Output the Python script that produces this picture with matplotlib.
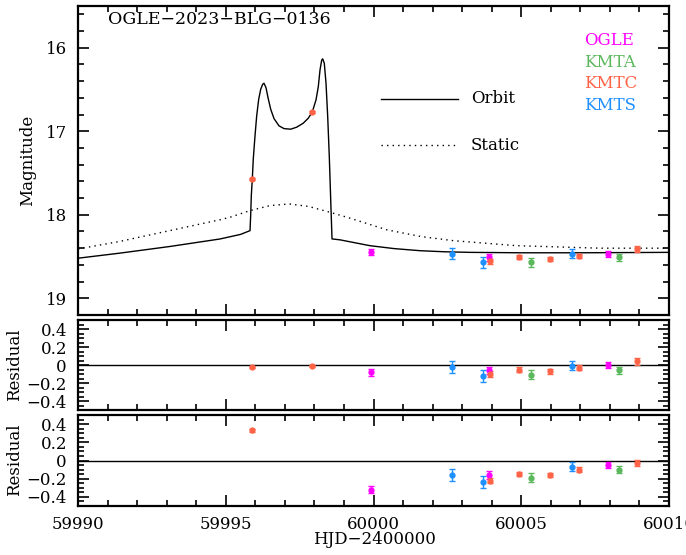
import numpy as np
import matplotlib
matplotlib.use("Agg")
import matplotlib.pyplot as plt
from matplotlib.ticker import MultipleLocator

plt.rcParams['font.family'] = ['DejaVu Serif']
plt.rcParams['font.size'] = 12

# data sets: time, magnitude, error, residual (orbit), residual (static)
ogle_t = [59999.90, 60003.92, 60007.92]
ogle_mag = [18.445, 18.51, 18.465]
ogle_err = [0.04, 0.04, 0.035]
ogle_res1 = [-0.08, -0.06, 0.00]
ogle_res2 = [-0.32, -0.16, -0.05]

kmta_t = [60005.32, 60008.31]
kmta_mag = [18.57, 18.51]
kmta_err = [0.05, 0.04]
kmta_res1 = [-0.11, -0.06]
kmta_res2 = [-0.19, -0.10]

kmtc_t = [59995.90, 59997.93, 60003.93, 60004.92, 60005.96, 60006.95, 60008.91]
kmtc_mag = [17.57, 16.77, 18.555, 18.505, 18.53, 18.49, 18.41]
kmtc_err = [0.012, 0.012, 0.03, 0.025, 0.025, 0.025, 0.035]
kmtc_res1 = [-0.02, -0.01, -0.10, -0.05, -0.07, -0.03, 0.04]
kmtc_res2 = [0.33, -1.13, -0.22, -0.15, -0.16, -0.10, -0.03]

kmts_t = [60002.66, 60003.69, 60006.71]
kmts_mag = [18.465, 18.57, 18.465]
kmts_err = [0.065, 0.065, 0.05]
kmts_res1 = [-0.02, -0.12, -0.01]
kmts_res2 = [-0.16, -0.24, -0.07]

# model curves
orbit_t = [59990.0, 59991.4, 59993.1, 59994.8, 59995.5, 59995.821, 59995.844,
           59995.865, 59995.899, 59995.932, 59995.990, 59996.047, 59996.115,
           59996.183, 59996.250, 59996.294, 59996.362, 59996.430, 59996.521,
           59996.633, 59996.802, 59996.971, 59997.198, 59997.401, 59997.624,
           59997.794, 59997.929, 59998.054, 59998.132, 59998.190, 59998.247,
           59998.281, 59998.335, 59998.393, 59998.450, 59998.504, 59998.552,
           59998.596, 59998.866, 59999.88, 60000.7, 60001.57, 60002.4,
           60003.27, 60005.0, 60007.0, 60010.0]
orbit_mag = [18.52, 18.46, 18.38, 18.29, 18.235, 18.19, 18.006,
             17.77, 17.57, 17.33, 17.055, 16.816, 16.616,
             16.497, 16.437, 16.425, 16.478, 16.597, 16.736,
             16.848, 16.935, 16.968, 16.975, 16.951, 16.903,
             16.843, 16.768, 16.625, 16.466, 16.266, 16.147,
             16.133, 16.186, 16.425, 16.824, 17.302, 17.82,
             18.289, 18.30, 18.37, 18.405, 18.43, 18.443,
             18.45, 18.455, 18.455, 18.45]

static_t = [59990.0, 59991.4, 59993.1, 59994.8, 59995.14, 59995.82, 59996.5,
            59997.15, 59997.8, 59998.53, 59999.2, 60000.45, 60001.6, 60002.7,
            60004.85, 60007.66, 60010.0]
static_mag = [18.41, 18.32, 18.19, 18.06, 18.03, 17.95, 17.89,
              17.87, 17.90, 17.97, 18.04, 18.18, 18.26, 18.31,
              18.37, 18.40, 18.40]

sets = [
    ("OGLE", "#ff00ff", ogle_t, ogle_mag, ogle_err, ogle_res1, ogle_res2),
    ("KMTA", "#5cb85c", kmta_t, kmta_mag, kmta_err, kmta_res1, kmta_res2),
    ("KMTC", "#ff6347", kmtc_t, kmtc_mag, kmtc_err, kmtc_res1, kmtc_res2),
    ("KMTS", "#1e90ff", kmts_t, kmts_mag, kmts_err, kmts_res1, kmts_res2),
]

fig = plt.figure(figsize=(6.86, 5.55), dpi=100)
W, H = 686, 555
def box(l, t, r, b):
    return [l / W, 1 - b / H, (r - l) / W, (b - t) / H]

ax = fig.add_axes(box(78, 6, 669, 315))
ax1 = fig.add_axes(box(78, 320, 669, 410))
ax2 = fig.add_axes(box(78, 415, 669, 506))

def style(a, ymaj, ymin):
    a.set_xlim(59990, 60010)
    a.xaxis.set_major_locator(MultipleLocator(5))
    a.xaxis.set_minor_locator(MultipleLocator(1))
    a.yaxis.set_major_locator(MultipleLocator(ymaj))
    a.yaxis.set_minor_locator(MultipleLocator(ymin))
    a.tick_params(which='both', direction='in', top=True, right=True, width=1.2)
    a.tick_params(which='major', length=8, labelsize=12)
    a.tick_params(axis='y', which='major', pad=8)
    a.tick_params(axis='x', which='major', pad=7)
    a.tick_params(which='minor', length=4)
    for s in a.spines.values():
        s.set_linewidth(1.6)

# main panel
ax.plot(orbit_t, orbit_mag, color='black', lw=1.0)
ax.plot(static_t, static_mag, color='black', lw=1.0, ls=(0, (1, 3)))
for name, c, t, m, e, r1, r2 in sets:
    ax.errorbar(t, m, yerr=e, fmt='o', color=c, ms=3.5, capsize=2, elinewidth=1)
ax.set_ylim(19.2, 15.5)
style(ax, 1, 0.2)
ax.tick_params(labelbottom=False)

ax.text(0.051, 0.955, "OGLE\u22122023\u2212BLG\u22120136", transform=ax.transAxes,
        fontsize=12.5, va='center', ha='left')
ax.plot([0.512, 0.6435], [0.700, 0.700], transform=ax.transAxes, color='black', lw=1.0)
ax.plot([0.512, 0.6435], [0.550, 0.550], transform=ax.transAxes, color='black',
        lw=1.0, ls=(0, (1, 3)))
ax.text(0.6645, 0.700, "Orbit", transform=ax.transAxes, va='center', fontsize=12)
ax.text(0.6645, 0.550, "Static", transform=ax.transAxes, va='center', fontsize=12)
for i, (name, c, *_rest) in enumerate(sets):
    ax.text(0.856, 0.888 - i * 0.0695, name, color=c, transform=ax.transAxes,
            va='center', ha='left', fontsize=12)

# residual panels
for a, idx in ((ax1, 5), (ax2, 6)):
    a.axhline(0, color='black', lw=1.0)
    for s in sets:
        a.errorbar(s[2], s[idx], yerr=s[4], fmt='o', color=s[1], ms=3.5,
                   capsize=2, elinewidth=1)
    a.set_ylim(-0.5, 0.5)
    style(a, 0.2, 0.05)
    a.set_yticks([-0.4, -0.2, 0, 0.2, 0.4])
    a.set_yticklabels(['\u22120.4', '\u22120.2', '0', '0.2', '0.4'])
ax1.tick_params(labelbottom=False)

fig.text(28 / W, 1 - 160 / H, "Magnitude", rotation=90, ha='center', va='center', fontsize=12)
fig.text(15 / W, 1 - 365 / H, "Residual", rotation=90, ha='center', va='center', fontsize=12)
fig.text(15 / W, 1 - 460 / H, "Residual", rotation=90, ha='center', va='center', fontsize=12)
fig.text(374 / W, 1 - 540 / H, "HJD\u22122400000", ha='center', va='center', fontsize=12)

fig.savefig("out.png", dpi=100)
